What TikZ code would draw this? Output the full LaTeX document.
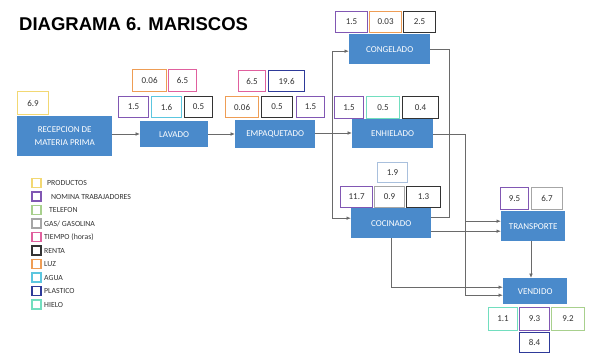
\documentclass[tikz,border=0pt]{standalone}
\usepackage{fontspec}
\setmainfont{Carlito}
\newfontfamily\titlefont{Liberation Sans}
\usetikzlibrary{arrows.meta}
\definecolor{cyel}{HTML}{F2D873}
\definecolor{cpur}{HTML}{8157B3}
\definecolor{cgrn}{HTML}{A8D08D}
\definecolor{cgas}{HTML}{A6A6A6}
\definecolor{cpink}{HTML}{E0609E}
\definecolor{cblk}{HTML}{333333}
\definecolor{corg}{HTML}{EE9D55}
\definecolor{caqua}{HTML}{5CC6DF}
\definecolor{cplas}{HTML}{2E3A99}
\definecolor{chie}{HTML}{72DEBF}
\definecolor{cltb}{HTML}{A9C0DD}
\definecolor{cnode}{HTML}{4A8ACB}
\definecolor{cline}{HTML}{6A6A6A}
\newcommand{\nbox}[7]{%
  \pgfmathsetmacro{\nbW}{#5-#3}\pgfmathsetmacro{\nbH}{#6-#4}%
  \node[numbox, draw=#2, minimum width=\nbW pt, minimum height=\nbH pt, anchor=north west] (#1) at (#3,#4) {#7};}
\newcommand{\pbox}[6]{%
  \pgfmathsetmacro{\nbW}{#4-#2}\pgfmathsetmacro{\nbH}{#5-#3}%
  \node[procbox, minimum width=\nbW pt, minimum height=\nbH pt, anchor=north west] (#1) at (#2,#3) {#6};}
\tikzset{
  numbox/.style={fill=white, line width=1.2pt, inner sep=0pt, text=black!80, font=\fontsize{9}{10}\selectfont},
  procbox/.style={fill=cnode, draw=none, inner sep=0pt, text=white, align=center, font=\fontsize{9}{13}\selectfont},
  legbox/.style={line width=1.2pt, minimum width=9pt, minimum height=9pt, inner sep=0pt, fill=white},
  legtext/.style={anchor=west, inner sep=0pt, text=black!80, font=\fontsize{7.8}{9}\selectfont},
  link/.style={draw=cline, line width=0.9pt},
  arr/.style={link, -{Latex[length=4.5pt,width=3.8pt]}},
}
\begin{document}
\begin{tikzpicture}[x=1pt,y=-1pt]
\useasboundingbox (0,0) rectangle (611,353);
\node[anchor=north west, inner sep=0pt, font=\titlefont\bfseries\fontsize{18.5}{20}\selectfont] (title) at (19,17) {DIAGRAMA 6. MARISCOS};
% process boxes
\pbox{rec}{17}{116}{112}{156}{RECEPCION DE\\MATERIA PRIMA}
\pbox{lav}{140}{121}{208}{147}{LAVADO}
\pbox{emp}{235}{120}{315}{148}{EMPAQUETADO}
\pbox{cong}{349}{34}{430}{64}{CONGELADO}
\pbox{enh}{352}{119}{433}{148}{ENHIELADO}
\pbox{coc}{351}{208}{431}{238}{COCINADO}
\pbox{tra}{501}{211}{565}{241}{TRANSPORTE}
\pbox{ven}{503}{278}{567}{304}{VENDIDO}
% number boxes
\nbox{a1}{cyel}{17}{91}{48}{114}{6.9}
\nbox{b1}{cpur}{118}{96}{148}{117}{1.5}
\nbox{b2}{caqua}{151}{96}{181}{117}{1.6}
\nbox{b3}{cblk}{184}{96}{212}{117}{0.5}
\nbox{b4}{corg}{132}{69}{166}{91}{0.06}
\nbox{b5}{cpink}{168}{69}{196}{91}{6.5}
\nbox{c1}{corg}{225}{96}{258}{117}{0.06}
\nbox{c2}{cblk}{261}{96}{292}{117}{0.5}
\nbox{c3}{cpur}{296}{96}{324}{117}{1.5}
\nbox{c4}{cpink}{238}{70}{265}{91}{6.5}
\nbox{c5}{cplas}{268}{70}{304}{91}{19.6}
\nbox{d1}{cpur}{335}{11}{367}{32}{1.5}
\nbox{d2}{corg}{369}{11}{401}{32}{0.03}
\nbox{d3}{cblk}{403}{11}{435}{32}{2.5}
\nbox{e1}{cpur}{334}{96}{363}{118}{1.5}
\nbox{e2}{chie}{366}{96}{399}{118}{0.5}
\nbox{e3}{cblk}{402}{96}{438}{118}{0.4}
\nbox{f1}{cltb}{377}{162}{407}{182}{1.9}
\nbox{f2}{cpur}{340}{186}{372}{207}{11.7}
\nbox{f3}{cgas}{374}{186}{404}{207}{0.9}
\nbox{f4}{cblk}{406}{186}{440}{207}{1.3}
\nbox{g1}{cpur}{500}{187}{528}{209}{9.5}
\nbox{g2}{cgas}{531}{187}{562}{209}{6.7}
\nbox{h1}{chie}{488}{307}{517}{330}{1.1}
\nbox{h2}{cpur}{519}{307}{549}{330}{9.3}
\nbox{h3}{cgrn}{551}{307}{584}{330}{9.2}
\nbox{h4}{cplas}{519}{332}{549}{352}{8.4}
% connectors
\draw[arr] (rec.east |- 0,134) coordinate (r1) -- (lav.west |- r1);
\draw[arr] (lav.east |- 0,134) coordinate (l1) -- (emp.west |- l1);
\draw[arr] (emp.east |- 0,133) coordinate (e0) -- (enh.west |- e0);
\coordinate (trunk) at (332,133);
\draw[arr] (trunk) |- ([yshift=-2pt]cong.west);
\draw[arr] (trunk) |- ([yshift=5pt]coc.west);
\draw[link] (cong.east) -- ++(19,0) |- ([yshift=6pt]coc.east);
\coordinate (v2) at (465,134);
\draw[link] (enh.east |- v2) -- (v2);
\draw[arr] (v2) |- ([yshift=5pt]tra.west);
\draw[arr] (v2) |- ([yshift=-4pt]ven.west);
\draw[arr] ([yshift=-8pt]coc.east) -- ([yshift=-5pt]tra.west);
\draw[arr] (coc.south) |- ([yshift=4pt]ven.west);
\draw[arr] (tra.south -| 531,0) coordinate (t1) -- (t1 |- ven.north);
% legend
\node[legbox, draw=cyel] (k1) at (36.5,183) {};
\node[legbox, draw=cpur] (k2) at (36.5,196.5) {};
\node[legbox, draw=cgrn] (k3) at (36.5,210) {};
\node[legbox, draw=cgas] (k4) at (36.5,223.5) {};
\node[legbox, draw=cpink] (k5) at (36.5,237) {};
\node[legbox, draw=cblk] (k6) at (36.5,250.5) {};
\node[legbox, draw=corg] (k7) at (36.5,264) {};
\node[legbox, draw=caqua] (k8) at (36.5,277.5) {};
\node[legbox, draw=cplas] (k9) at (36.5,291) {};
\node[legbox, draw=chie] (k10) at (36.5,304.5) {};
\node[legtext] (t1x) at (47,183) {PRODUCTOS};
\node[legtext] (t2x) at (51,196.5) {NOMINA TRABAJADORES};
\node[legtext] (t3x) at (49,210) {TELEFON};
\node[legtext] (t4x) at (44,223.5) {GAS/ GASOLINA};
\node[legtext] (t5x) at (44,237) {TIEMPO (horas)};
\node[legtext] (t6x) at (44,250.5) {RENTA};
\node[legtext] (t7x) at (44,264) {LUZ};
\node[legtext] (t8x) at (44,277.5) {AGUA};
\node[legtext] (t9x) at (44,291) {PLASTICO};
\node[legtext] (t10x) at (44,304.5) {HIELO};
\end{tikzpicture}
\end{document}
